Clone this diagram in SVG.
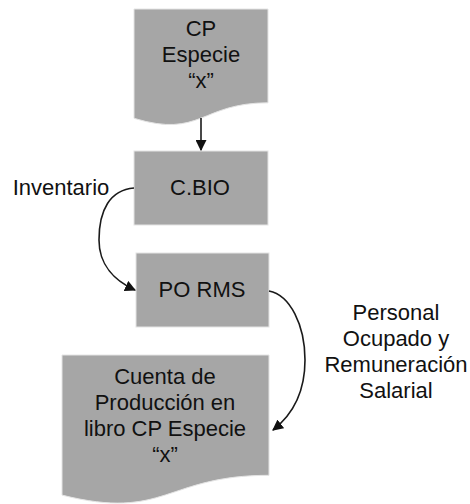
<svg xmlns="http://www.w3.org/2000/svg" width="470" height="504" viewBox="0 0 470 504">
<style>
.shape{fill:#a6a6a6;stroke:#e4e4e4;stroke-width:1}
.t{font-family:"Liberation Sans",Arial,sans-serif;font-size:22px;fill:#111;text-anchor:middle}
.edge{fill:none;stroke:#1a1a1a;stroke-width:1.6}
</style>
<defs>
<marker id="ah" markerUnits="userSpaceOnUse" markerWidth="11" markerHeight="11" viewBox="0 0 10 10" refX="9" refY="5" orient="auto">
<path d="M0,0 L10,5 L0,10 z" fill="#111"/>
</marker>
</defs>
<rect width="470" height="504" fill="#fff"/>
<g id="node-cp-especie">
<path class="shape" d="M134,9 H268 V102.8 C201,102.8 201,138.6 134,118.3 Z"/>
<text class="t" x="201" y="36">CP</text>
<text class="t" x="201" y="62">Especie</text>
<text class="t" x="201" y="88">“x”</text>
</g>
<g id="node-cbio">
<rect class="shape" x="134" y="151" width="134" height="74"/>
<text class="t" x="200" y="195">C.BIO</text>
</g>
<g id="node-porms">
<rect class="shape" x="136" y="253" width="133" height="74"/>
<text class="t" x="202" y="297">PO RMS</text>
</g>
<g id="node-cuenta">
<path class="shape" d="M62,355 H269 V475.3 C165.5,475.3 165.5,521.1 62,495.1 Z"/>
<text class="t" x="165" y="384">Cuenta de</text>
<text class="t" x="165" y="410">Producción en</text>
<text class="t" x="165" y="436">libro CP Especie</text>
<text class="t" x="165" y="462">“x”</text>
</g>
<g id="connectors">
<path class="edge" d="M201,118 V150" marker-end="url(#ah)"/>
<path class="edge" d="M134,188 C110,190 99,210 99,240 C99,265 115,281 135,290" marker-end="url(#ah)"/>
<path class="edge" d="M269,291 C290,295 305,325 305,360 C305,395 291,416 273,430" marker-end="url(#ah)"/>
</g>
<g id="labels">
<text class="t" x="61" y="195">Inventario</text>
<text class="t" x="396" y="320">Personal</text>
<text class="t" x="396" y="346">Ocupado y</text>
<text class="t" x="396" y="372">Remuneración</text>
<text class="t" x="396" y="398">Salarial</text>
</g>
</svg>
